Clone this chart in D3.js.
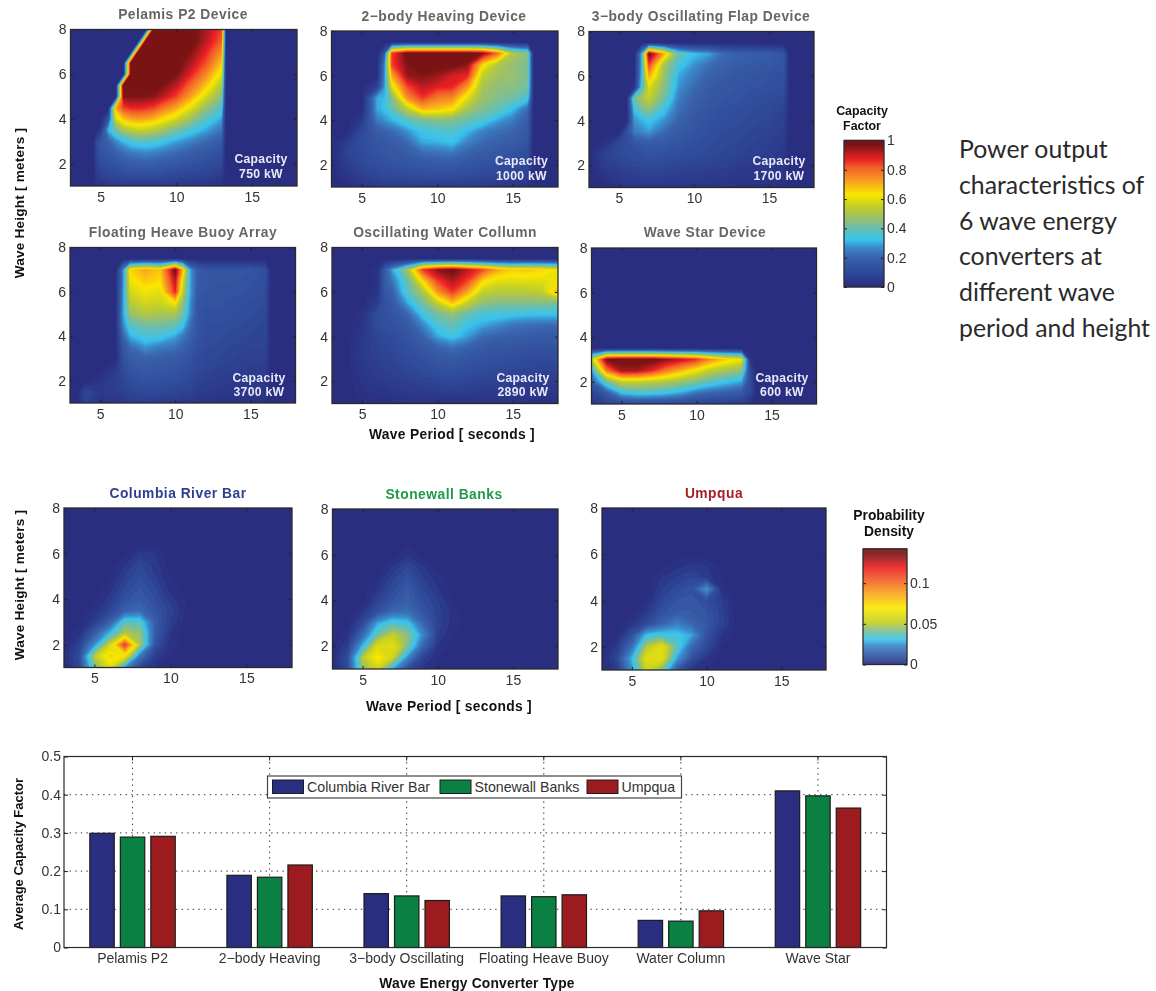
<!DOCTYPE html>
<html><head><meta charset="utf-8">
<script src="https://cdn.jsdelivr.net/npm/d3@7/dist/d3.min.js"></script>
<style>
html,body{margin:0;padding:0;background:#fff}
svg{position:absolute;left:0;top:0}
text{font-family:"Liberation Sans",Arial,sans-serif}
#charts{filter:blur(0.45px)}
</style></head><body>
<svg id="s" width="1156" height="991"></svg>
<script>
// ---------- shared axes of the contour grids ----------
const heights=[8,7.5,7,6.5,6,5.5,5,4.5,4,3.5,3,2.5,2,1.5,1];
const periodTicks=[5,10,15];
const heightTicks=[2,4,6,8];

// ---------- capacity factor (percent), rows follow `heights` ----------
const pelamisPeriods=[3,4.5,4.7,5,5.5,6,6.5,7,7.5,8,8.5,9,10,11,12,13,13.3,18];
const pelamisValues=[
[0,0,0,0,0,0,0,0,0,0,100,100,100,100,93,85,0,0],
[0,0,0,0,0,0,0,0,0,100,100,100,100,100,92,82,0,0],
[0,0,0,0,0,0,0,0,100,100,100,100,100,97,88,75,0,0],
[0,0,0,0,0,0,0,100,100,100,100,100,100,93,83,68,0,0],
[0,0,0,0,0,0,0,100,100,100,100,100,98,88,76,60,0,0],
[0,0,0,0,0,0,100,100,100,100,100,98,92,80,68,52,0,0],
[0,0,0,0,0,0,97,97,97,97,96,93,85,72,58,45,0,0],
[0,0,0,0,0,72,85,88,88,87,85,80,72,60,47,38,0,0],
[0,0,0,0,15,58,68,72,73,72,70,66,58,48,38,30,0,0],
[0,0,0,5,32,42,50,54,56,55,53,50,43,36,30,24,0,0],
[0,0,10,16,20,27,32,36,38,38,37,35,30,26,22,18,0,0],
[0,0,9,14,17,20,23,25,26,27,26,25,22,19,16,13,0,0],
[0,0,7,11,13,15,17,18,19,19,19,18,16,14,12,10,0,0],
[0,0,5,8,9,10,11,12,12,12,12,12,10,9,8,6,0,0],
[0,0,2,3,4,5,5,5,5,5,5,5,4,4,3,2,0,0]];

const twoBodyPeriods=[3,4,5,6,6.5,7,8,9,10,11,12,13,14,15,16,16.4,17,18];
const twoBodyValues=[
[0,0,0,0,0,0,0,0,0,0,0,0,0,0,0,0,0,0],
[0,0,0,0,0,0,0,0,0,0,0,0,0,0,0,0,0,0],
[0,0,0,0,15,85,100,100,100,100,100,97,80,52,45,0,0,0],
[0,0,0,0,25,85,97,100,100,100,96,66,52,47,43,0,0,0],
[0,0,0,0,27,72,95,97,95,90,88,55,49,47,43,0,0,0],
[0,0,0,8,28,60,84,92,89,88,74,50,46,45,42,0,0,0],
[0,0,0,30,32,45,75,86,78,76,60,48,44,42,36,0,0,0],
[0,0,0,30,33,40,54,70,68,64,50,44,40,33,22,0,0,0],
[0,0,5,25,28,31,38,42,45,44,40,37,30,25,18,0,0,0],
[0,0,10,18,20,22,28,34,36,37,32,26,23,21,17,0,0,0],
[0,6,12,15,16,18,22,30,31,33,26,22,20,18,15,0,0,0],
[0,8,11,14,15,16,18,22,23,24,20,18,16,14,12,0,0,0],
[0,6,10,12,13,14,15,16,17,17,15,14,13,11,9,0,0,0],
[0,3,7,9,10,10,11,12,12,12,11,10,9,8,7,0,0,0],
[0,0,3,4,5,5,5,5,5,5,5,4,4,3,2,0,0,0]];

const threeBodyPeriods=[3,4,5,5.5,6,6.5,7,8,9,10,11,12,13,14,15,16,16.4,18];
const threeBodyValues=[
[0,0,0,0,0,0,0,0,0,0,0,0,0,0,0,0,0,0],
[0,0,0,0,0,0,0,0,0,0,0,0,0,0,0,0,0,0],
[0,0,0,0,0,30,100,72,40,33,30,22,20,19,18,15,0,0],
[0,0,0,0,0,30,85,50,35,28,23,20,18,17,16,14,0,0],
[0,0,0,0,0,32,72,48,30,25,20,18,16,15,14,13,0,0],
[0,0,0,0,2,35,60,45,28,22,18,16,15,14,13,12,0,0],
[0,0,0,0,42,50,56,42,25,20,17,15,14,12,11,10,0,0],
[0,0,0,0,33,42,46,34,23,18,15,13,12,11,10,8,0,0],
[0,0,0,0,28,31,34,28,20,16,14,12,11,10,9,7,0,0],
[0,0,0,12,25,27,29,22,18,15,13,11,10,9,8,6,0,0],
[0,2,10,12,15,17,18,17,15,13,11,10,9,8,7,5,0,0],
[0,7,10,11,12,13,14,13,12,11,10,9,8,7,6,4,0,0],
[0,6,8,9,10,10,11,10,9,8,8,7,6,5,5,3,0,0],
[0,3,5,6,6,7,7,7,6,6,5,5,4,4,3,3,0,0],
[0,0,2,3,3,3,3,3,3,3,3,2,2,2,2,1,0,0]];

const floatingPeriods=[3,3.5,4,5,6,6.5,7,8,9,10,10.5,11,11.5,12,13,14,15,16,16.4,18];
const floatingValues=[
[0,0,0,0,0,0,0,0,0,0,0,0,0,0,0,0,0,0,0,0],
[0,0,0,0,0,0,0,0,0,0,0,0,0,0,0,0,0,0,0,0],
[0,0,0,0,0,25,66,72,68,100,70,30,18,15,15,15,15,13,0,0],
[0,0,0,0,0,25,62,68,65,92,60,30,18,15,15,15,14,12,0,0],
[0,0,0,0,0,27,58,62,60,88,55,30,17,15,14,14,13,12,0,0],
[0,0,0,0,0,27,53,58,57,63,47,28,16,14,14,13,12,11,0,0],
[0,0,0,0,0,28,47,52,50,50,42,27,15,13,13,12,11,10,0,0],
[0,0,0,0,0,26,38,42,42,40,34,23,15,12,12,11,10,9,0,0],
[0,0,0,0,0,20,31,36,35,30,25,20,14,12,11,10,9,9,0,0],
[0,0,0,0,0,15,22,28,25,23,20,17,13,11,10,9,8,8,0,0],
[0,0,0,0,0,13,18,20,19,18,16,14,11,10,9,8,7,7,0,0],
[0,0,0,0,5,11,15,17,16,15,13,12,10,9,7,7,6,6,0,0],
[0,0,0,3,7,9,12,14,13,12,11,10,8,7,6,5,5,5,0,0],
[0,0,10,5,6,7,9,10,10,9,8,8,6,5,5,4,4,3,0,0],
[0,0,8,3,4,4,5,6,5,5,4,4,3,3,2,2,2,1,0,0]];

const columnPeriods=[3,4,5,6,6.5,7,8,9,10,11,12,13,14,15,16,17,18];
const columnValues=[
[0,0,0,0,0,0,0,0,0,0,0,0,0,0,0,0,0],
[0,0,0,0,0,0,0,0,0,0,0,0,0,0,0,0,0],
[0,0,0,2,18,30,50,85,96,100,92,84,72,67,68,66,62],
[0,0,0,1,18,24,40,65,85,93,85,66,60,60,60,60,62],
[0,0,0,3,16,20,38,50,74,86,72,55,53,53,53,55,72],
[0,0,0,6,14,17,30,42,55,68,55,46,44,44,44,44,42],
[0,0,2,12,13,15,21,34,42,46,40,36,35,34,33,33,33],
[0,0,3,11,12,13,17,26,36,40,33,30,27,24,23,22,22],
[0,0,4,9,10,11,15,20,30,34,29,22,20,19,18,17,17],
[0,0,5,8,9,10,13,16,20,23,20,17,15,15,14,14,14],
[0,0,5,7,8,9,11,13,16,17,15,14,13,12,11,11,11],
[0,0,4,6,7,7,9,11,13,13,12,11,10,9,9,8,8],
[0,0,3,5,5,6,7,8,9,10,9,8,8,7,7,6,6],
[0,0,2,3,3,4,5,5,6,6,6,5,5,5,4,4,4],
[0,0,1,1,1,2,2,2,2,2,2,2,2,2,2,1,1]];

const starPeriods=[3,4,5,6,7,8,9,10,11,12,13,13.6,14,15,18];
const starValues=[
[0,0,0,0,0,0,0,0,0,0,0,0,0,0,0],
[0,0,0,0,0,0,0,0,0,0,0,0,0,0,0],
[0,0,0,0,0,0,0,0,0,0,0,0,0,0,0],
[0,0,0,0,0,0,0,0,0,0,0,0,0,0,0],
[0,0,0,0,0,0,0,0,0,0,0,0,0,0,0],
[0,0,0,0,0,0,0,0,0,0,0,0,0,0,0],
[0,0,0,0,0,0,0,0,0,0,0,0,0,0,0],
[0,0,0,0,0,0,0,0,0,0,0,0,0,0,0],
[0,0,0,0,0,0,0,0,0,0,0,0,0,0,0],
[0,0,0,0,0,0,0,0,0,0,0,0,0,0,0],
[55,98,100,100,100,96,92,87,75,67,62,2,0,0,0],
[30,78,94,94,88,78,70,62,54,50,46,10,0,0,0],
[18,42,56,56,54,52,48,44,38,34,30,12,0,0,0],
[8,18,33,36,36,34,30,24,21,19,17,10,0,0,0],
[5,8,10,11,10,10,9,8,7,6,5,3,0,0,0]];

// ---------- sea-state probability density (×0.001), rows follow `heights` ----------
const sitePeriods=[3,4,5,6,7,8,9,10,11,12,18];
const columbiaValues=[
[0,0,0,0,0,0,0,0,0,0,0],
[0,0,0,0,0,0,0,0,0,0,0],
[0,0,0,0,0,0,0,0,0,0,0],
[0,0,0,0,0,0,0,0,0,0,0],
[0,0,0,0,0,4,3,0,0,0,0],
[0,0,0,0,3,7,4,0,0,0,0],
[0,0,0,0,5,9,5,1,0,0,0],
[0,0,0,2,7,11,7,2,0,0,0],
[0,0,0,4,10,13,9,4,1,0,0],
[0,0,2,7,14,17,11,6,1,0,0],
[0,0,5,14,37,36,13,5,0,0,0],
[0,2,13,30,50,45,13,3,0,0,0],
[0,6,25,55,115,48,10,2,0,0,0],
[1,8,50,78,66,20,5,1,0,0,0],
[0,7,40,60,25,7,2,0,0,0,0]];
const stonewallValues=[
[0,0,0,0,0,0,0,0,0,0,0],
[0,0,0,0,0,0,0,0,0,0,0],
[0,0,0,0,0,0,0,0,0,0,0],
[0,0,0,0,0,0,0,0,0,0,0],
[0,0,0,0,0,3,0,0,0,0,0],
[0,0,0,0,3,7,3,0,0,0,0],
[0,0,0,1,6,10,5,2,0,0,0],
[0,0,0,3,8,13,7,3,0,0,0],
[0,0,0,6,11,14,9,5,1,0,0],
[0,0,3,10,17,18,11,6,2,0,0],
[0,0,8,28,36,33,16,6,2,0,0],
[0,2,16,40,52,44,24,5,1,0,0],
[0,5,30,60,62,42,16,3,0,0,0],
[1,9,50,72,55,24,6,1,0,0,0],
[0,8,45,55,28,9,3,0,0,0,0]];
const umpquaValues=[
[0,0,0,0,0,0,0,0,0,0,0],
[0,0,0,0,0,0,0,0,0,0,0],
[0,0,0,0,0,0,0,0,0,0,0],
[0,0,0,0,0,0,0,0,0,0,0],
[0,0,0,0,0,0,0,0,0,0,0],
[0,0,0,0,0,2,4,3,0,0,0],
[0,0,0,0,3,5,7,4,1,0,0],
[0,0,0,0,5,8,10,26,2,0,0],
[0,0,0,1,7,11,12,9,5,0,0],
[0,0,0,4,10,13,13,11,6,0,0],
[0,0,3,8,15,22,16,12,6,0,0],
[0,1,10,32,35,33,28,10,3,0,0],
[0,4,18,50,62,38,17,8,1,0,0],
[0,7,30,62,62,28,10,3,0,0,0],
[0,4,25,55,42,12,2,0,0,0,0]];

// ---------- colour ramps ----------
const ramp=["#2a2e80","#2f4a9a","#3a62ac","#3b8ccb","#38c4ef","#6abfae","#9cc06a","#c4d024","#fbe800","#f9a020","#f15a29","#ee2024","#b01c20","#7a1414","#7a1414"];
const capacityStops=[0,10,20,27,32,40,47,55,63,72,82,87,92,97,100];
const densityStops=[0,7,14,24,30,38,45,51,70,88,105,119,128,136,142];
const capacityTicks=[0,0.2,0.4,0.6,0.8,1];
const densityTicks=[0,0.05,0.1];

// ---------- bar chart ----------
const converterTypes=["Pelamis P2","2−body Heaving","3−body Oscillating","Floating Heave Buoy","Water Column","Wave Star"];
const siteNames=["Columbia River Bar","Stonewall Banks","Umpqua"];
const siteColors=["#2a2e80","#0b8043","#9b1b1e"];
const columbiaBars=[0.299,0.189,0.141,0.135,0.071,0.410];
const stonewallBars=[0.289,0.184,0.135,0.133,0.069,0.397];
const umpquaBars=[0.291,0.216,0.123,0.138,0.096,0.365];
const barTicks=[0,0.1,0.2,0.3,0.4,0.5];

const captionLines=["Power output","characteristics of","6 wave energy","converters at","different wave","period and height"];

const capColor=d3.scaleLinear().domain(capacityStops).range(ramp);
const denColor=d3.scaleLinear().domain(densityStops).range(ramp);

const svg=d3.select("#s");
const root=svg.append("g").attr("id","charts");
const TICK="#222", LABEL="#333";

function bold(x,y,t,size,fill,rot){
  const e=root.append("text").attr("text-anchor","middle").attr("font-weight","bold")
    .attr("font-size",size).attr("fill",fill).text(t);
  if(rot) e.attr("transform",`translate(${x},${y}) rotate(-90)`); else e.attr("x",x).attr("y",y);
  return e;
}

function styleAxis(g){
  g.selectAll("path").remove();
  g.selectAll("line").attr("stroke",TICK).attr("stroke-width",1);
  g.selectAll("text").attr("fill",LABEL).attr("font-size",14).style("font-family",'"Liberation Sans",Arial,sans-serif');
}

function contourPanel(p,i){
  const sx=d3.scaleLinear().domain([3,18]).range([p.x0,p.x1]);
  const sy=d3.scaleLinear().domain([1,8]).range([p.y1,p.y0]);
  const g=root.append("g");
  const cid="clip"+i;
  g.append("clipPath").attr("id",cid).append("rect")
    .attr("x",p.x0).attr("y",p.y0).attr("width",p.x1-p.x0).attr("height",p.y1-p.y0);
  g.append("rect").attr("x",p.x0).attr("y",p.y0).attr("width",p.x1-p.x0).attr("height",p.y1-p.y0).attr("fill",ramp[0]);
  const nx=p.periods.length, ny=heights.length;
  const ix=d3.scaleLinear().domain(p.periods.map((_,k)=>k+0.5)).range(p.periods);
  const iy=d3.scaleLinear().domain(heights.map((_,k)=>k+0.5)).range(heights);
  const path=d3.geoPath(d3.geoTransform({point(x,y){this.stream.point(sx(ix(x)),sy(iy(y)));}}));
  const flat=p.values.flat();
  const thresholds=d3.range(1,p.max,p.max/72);
  const contours=d3.contours().size([nx,ny]).thresholds(thresholds)(flat);
  g.append("g").attr("clip-path",`url(#${cid})`).selectAll("path").data(contours).join("path")
    .attr("d",d=>path(d)).attr("fill",d=>p.color(d.value));
  // axes, ticks on all four sides
  const fmt=d3.format("d");
  g.append("g").attr("transform",`translate(0,${p.y1})`).call(d3.axisBottom(sx).tickValues(periodTicks).tickFormat(fmt).tickSizeOuter(0).tickSizeInner(-3).tickPadding(6)).call(styleAxis);
  g.append("g").attr("transform",`translate(${p.x0},0)`).call(d3.axisLeft(sy).tickValues(heightTicks).tickFormat(fmt).tickSizeOuter(0).tickSizeInner(-3).tickPadding(4)).call(styleAxis);
  g.append("g").attr("transform",`translate(0,${p.y0})`).call(d3.axisTop(sx).tickValues(periodTicks).tickSizeOuter(0).tickSizeInner(-3).tickFormat("")).call(styleAxis);
  g.append("g").attr("transform",`translate(${p.x1},0)`).call(d3.axisRight(sy).tickValues(heightTicks).tickSizeOuter(0).tickSizeInner(-3).tickFormat("")).call(styleAxis);
  g.append("rect").attr("x",p.x0).attr("y",p.y0).attr("width",p.x1-p.x0).attr("height",p.y1-p.y0)
    .attr("fill","none").attr("stroke","#2a2a2a").attr("stroke-width",1.3);
  bold(p.tx,p.ty,p.title,13.8,p.titleFill).style("letter-spacing","0.5px");
  if(p.cap){
    bold(p.cx,p.cy,"Capacity",12.2,"#e8e8f6").style("letter-spacing","0.3px");
    bold(p.cx,p.cy+14.5,p.cap,12.2,"#e8e8f6").style("letter-spacing","0.3px");
  }
}

const GREY="#666";
const panels=[
 {title:"Pelamis P2 Device",periods:pelamisPeriods,values:pelamisValues,cap:"750 kW",x0:70.5,x1:297,y0:29.5,y1:186,tx:183,ty:19,cx:261,cy:163},
 {title:"2−body Heaving Device",periods:twoBodyPeriods,values:twoBodyValues,cap:"1000 kW",x0:331.5,x1:558,y0:31,y1:187,tx:444,ty:20.5,cx:521.5,cy:165},
 {title:"3−body Oscillating Flap Device",periods:threeBodyPeriods,values:threeBodyValues,cap:"1700 kW",x0:589,x1:814,y0:31.5,y1:187.5,tx:701,ty:21,cx:779,cy:165},
 {title:"Floating Heave Buoy Array",periods:floatingPeriods,values:floatingValues,cap:"3700 kW",x0:70,x1:295.5,y0:247.5,y1:403,tx:183,ty:236.5,cx:259,cy:381.5},
 {title:"Oscillating Water Collumn",periods:columnPeriods,values:columnValues,cap:"2890 kW",x0:332,x1:558,y0:247.5,y1:403.5,tx:445,ty:236.5,cx:523,cy:381.5},
 {title:"Wave Star Device",periods:starPeriods,values:starValues,cap:"600 kW",x0:591.5,x1:816.5,y0:248,y1:404,tx:705,ty:237,cx:782,cy:381.5}
].map(p=>({...p,max:100,color:capColor,titleFill:GREY}));
const sitePanels=[
 {title:"Columbia River Bar",values:columbiaValues,x0:64,x1:292,y0:508,y1:667.5,tx:178,ty:498,titleFill:"#2e3f8f"},
 {title:"Stonewall Banks",values:stonewallValues,x0:332.5,x1:558,y0:509,y1:669,tx:444,ty:499,titleFill:"#1f9a4c"},
 {title:"Umpqua",values:umpquaValues,x0:602,x1:826,y0:508,y1:670,tx:714,ty:498,titleFill:"#a81e24"}
].map(p=>({...p,periods:sitePeriods,max:142,color:denColor}));
panels.concat(sitePanels).forEach(contourPanel);

// axis titles
bold(24,203,"Wave Height [ meters ]",13.6,"#111",true).style("letter-spacing","0.2px");
bold(24,585,"Wave Height [ meters ]",13.6,"#111",true).style("letter-spacing","0.2px");
bold(452,439,"Wave Period [ seconds ]",13.8,"#111").style("letter-spacing","0.3px");
bold(449,711,"Wave Period [ seconds ]",13.8,"#111").style("letter-spacing","0.3px");

// colour bars
function colorBar(o){
  const sy=d3.scaleLinear().domain(o.domain).range([o.y1,o.y0]);
  const g=root.append("g");
  const steps=d3.range(0,o.y1-o.y0,1).map(k=>sy.invert(o.y1-k));
  g.selectAll("rect").data(steps).join("rect")
    .attr("x",o.x0).attr("width",o.x1-o.x0).attr("y",d=>sy(d)-1.2).attr("height",1.4).attr("fill",d=>o.color(d*o.k));
  g.append("g").attr("transform",`translate(${o.x1},0)`).call(d3.axisRight(sy).tickValues(o.ticks).tickSizeOuter(0).tickSizeInner(-3).tickPadding(3).tickFormat(d=>String(d))).call(styleAxis);
  g.append("g").attr("transform",`translate(${o.x0},0)`).call(d3.axisLeft(sy).tickValues(o.ticks).tickSizeOuter(0).tickSizeInner(-3).tickFormat("")).call(styleAxis);
  g.append("rect").attr("x",o.x0).attr("y",o.y0).attr("width",o.x1-o.x0).attr("height",o.y1-o.y0).attr("fill","none").attr("stroke","#2a2a2a").attr("stroke-width",1.3);
  o.titles.forEach((t,k)=>bold(o.tx,o.ty[k],t,o.tsize,"#111"));
}
colorBar({x0:844,x1:884,y0:140.5,y1:287,domain:[0,1],k:100,color:capColor,ticks:capacityTicks,titles:["Capacity","Factor"],tx:862,ty:[115,130],tsize:12.4});
colorBar({x0:863,x1:907,y0:549,y1:664.5,domain:[0,0.142],k:1000,color:denColor,ticks:densityTicks,titles:["Probability","Density"],tx:889,ty:[520,536],tsize:13.8});

// ---------- bar chart ----------
(function(){
  const x0=64,x1=886.5,y0=756.5,y1=947.5;
  const g=root.append("g");
  const cat=d3.scaleBand().domain(converterTypes).range([x0,x1]);
  const inner=d3.scaleBand().domain(siteNames).range([(cat.step()-91.5)/2,(cat.step()+91.5)/2]).paddingInner(0.2).paddingOuter(0.1);
  const y=d3.scaleLinear().domain([0,0.5]).range([y1,y0]);
  const barValues=[columbiaBars,stonewallBars,umpquaBars];
  const dot="1.4 4.2";
  g.append("g").selectAll("line").data(barTicks.filter(t=>t>0&&t<0.5)).join("line")
    .attr("x1",x0).attr("x2",x1).attr("y1",d=>y(d)).attr("y2",d=>y(d))
    .attr("stroke","#333").attr("stroke-width",1).attr("stroke-dasharray",dot);
  g.append("g").selectAll("line").data(converterTypes).join("line")
    .attr("x1",d=>cat(d)+cat.bandwidth()/2).attr("x2",d=>cat(d)+cat.bandwidth()/2).attr("y1",y0).attr("y2",y1)
    .attr("stroke","#333").attr("stroke-width",1).attr("stroke-dasharray",dot);
  g.append("g").attr("transform",`translate(0,${y1})`).call(d3.axisBottom(cat).tickSizeOuter(0).tickSizeInner(-4).tickPadding(6)).call(styleAxis);
  g.append("g").attr("transform",`translate(${x0},0)`).call(d3.axisLeft(y).tickValues(barTicks).tickFormat(d=>String(d)).tickSizeOuter(0).tickSizeInner(-4).tickPadding(3)).call(styleAxis);
  g.append("g").attr("transform",`translate(0,${y0})`).call(d3.axisTop(cat).tickSizeOuter(0).tickSizeInner(-4).tickFormat("")).call(styleAxis);
  g.append("g").attr("transform",`translate(${x1},0)`).call(d3.axisRight(y).tickValues(barTicks).tickSizeOuter(0).tickSizeInner(-4).tickFormat("")).call(styleAxis);
  siteNames.forEach((s,k)=>{
    g.append("g").selectAll("rect").data(barValues[k]).join("rect")
      .attr("x",(d,i)=>cat(converterTypes[i])+inner(s)).attr("width",inner.bandwidth())
      .attr("y",d=>y(d)).attr("height",d=>y1-y(d))
      .attr("fill",siteColors[k]).attr("stroke","#1c1c1c").attr("stroke-width",1.2);
  });
  g.append("rect").attr("x",x0).attr("y",y0).attr("width",x1-x0).attr("height",y1-y0).attr("fill","none").attr("stroke","#2a2a2a").attr("stroke-width",1.2);
  const lg=g.append("g");
  lg.append("rect").attr("x",267.5).attr("y",776).attr("width",414).attr("height",22).attr("fill","#fff").attr("stroke","#444").attr("stroke-width",1.2);
  const lx=[272.5,440,587];
  siteNames.forEach((s,k)=>{
    lg.append("rect").attr("x",lx[k]).attr("y",780).attr("width",31).attr("height",13.5).attr("fill",siteColors[k]).attr("stroke","#1c1c1c").attr("stroke-width",1);
    lg.append("text").attr("x",lx[k]+34.5).attr("y",791.5).attr("font-size",14.2).attr("fill",LABEL).text(s);
  });
  bold(23,854,"Average Capacity Factor",13,"#111",true);
  bold(477,988,"Wave Energy Converter Type",13.8,"#111").style("letter-spacing","0.2px");
})();

// ---------- caption ----------
svg.append("g").selectAll("text").data(captionLines).join("text")
  .attr("x",959).attr("y",(d,i)=>158+i*35.8).attr("font-size",24.8).attr("fill","#2a2a2a")
  .style("font-family","Lato").text(d=>d);
</script>
</body></html>
